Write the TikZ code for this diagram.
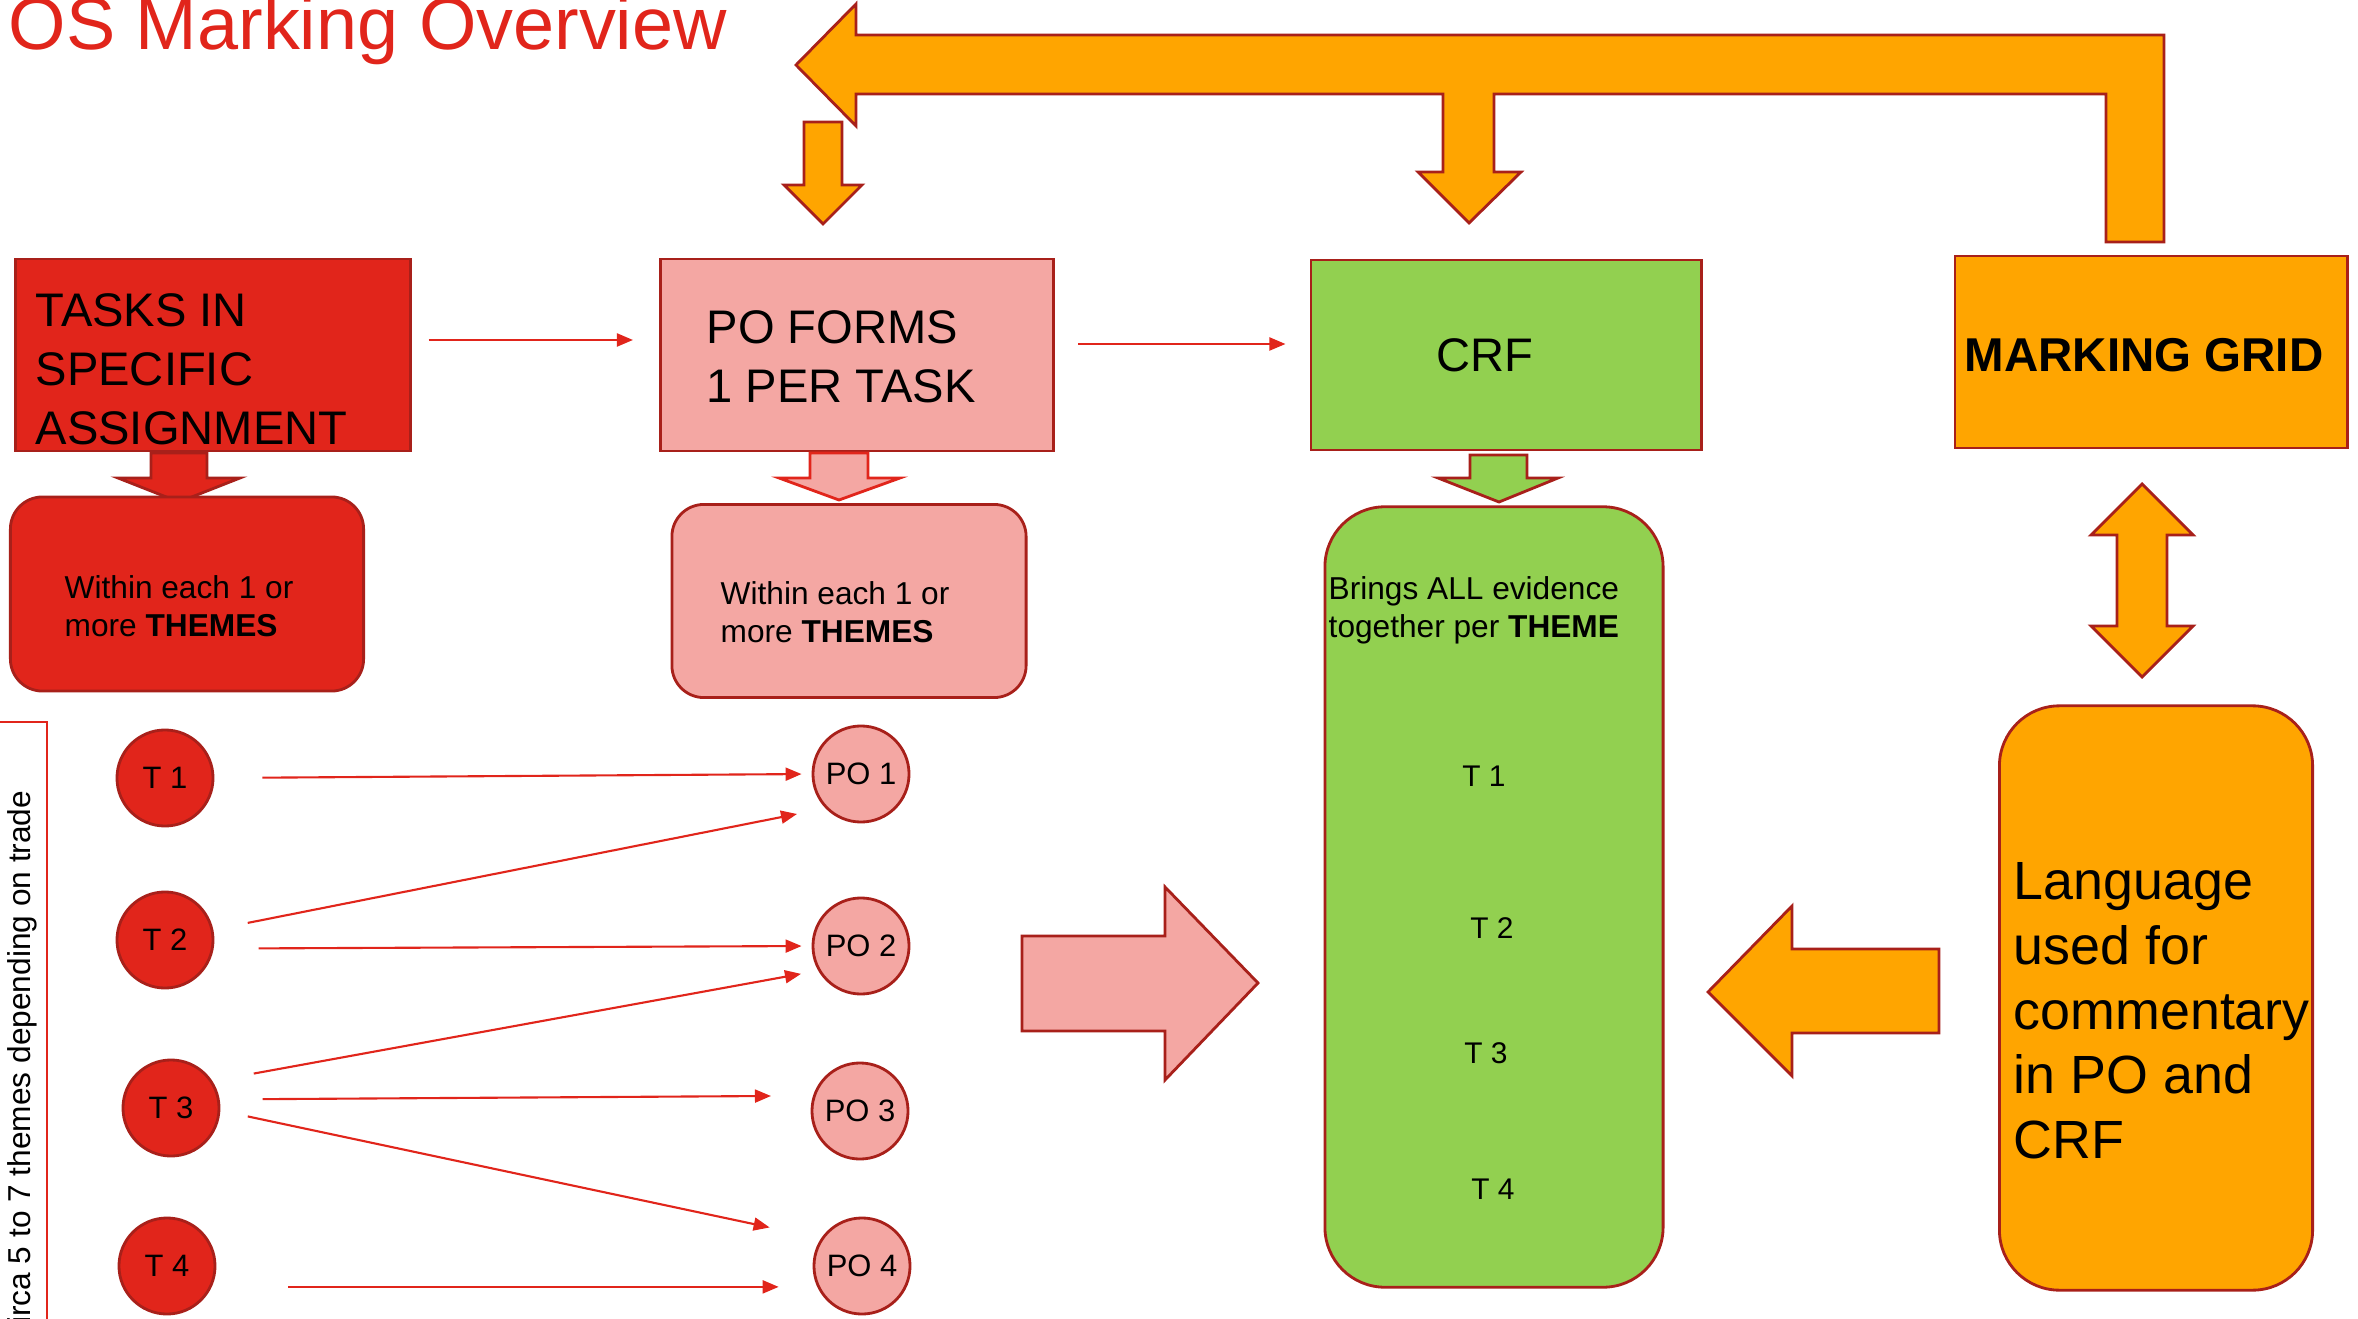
\documentclass[tikz,border=0pt]{standalone}
\usepackage{fontspec}
\setmainfont{Liberation Sans}
\usetikzlibrary{arrows.meta}

\definecolor{osred}{HTML}{E1251B}
\definecolor{ospink}{HTML}{F4A7A3}
\definecolor{osgreen}{HTML}{92D050}
\definecolor{osorange}{HTML}{FFA500}
\definecolor{osline}{HTML}{A8201A}

\tikzset{
    box/.style={draw=osline, line width=0.8pt, inner sep=0pt},
    boxtext/.style={inner sep=0pt, anchor=north west, align=left},
    bigtext/.style={font=\fontsize{13.4}{16.8}\selectfont},
    smalltext/.style={font=\fontsize{9}{10.8}\selectfont},
    theme/.style={circle, draw=osline, line width=0.8pt, fill=osred,
        minimum size=9.6mm, inner sep=0pt, font=\fontsize{8.8}{10}\selectfont},
    pocirc/.style={theme, fill=ospink},
    link/.style={draw=osred, line width=0.6pt, -{Triangle[length=1.6mm,width=1.3mm]}},
    block/.style={draw=osline, line width=0.8pt, line join=miter},
}

\begin{document}
\begin{tikzpicture}[x=0.01cm, y=-0.01cm]
\useasboundingbox (0,0) rectangle (2358,1319);
\clip (0,0) rectangle (2358,1319);

% title
\node[anchor=base west, inner sep=0pt, text=osred, font=\fontsize{21}{25}\selectfont] (title) at (8,50) {OS Marking Overview};

% feedback arrow across the top
\draw[block, fill=osorange] (796,65) -- (856,4) -- (856,35) -- (2164,35) -- (2164,242) -- (2106,242)
    -- (2106,94) -- (1494,94) -- (1494,172) -- (1521,172) -- (1469,223) -- (1418,172) -- (1443,172)
    -- (1443,94) -- (856,94) -- (856,126) -- cycle;
\draw[block, fill=osorange] (804,122) -- (842,122) -- (842,185) -- (862,185) -- (823,224)
    -- (784,185) -- (804,185) -- cycle;

% top row
\node[box, fill=osred, minimum width=3.94cm, minimum height=1.92cm] (tasks) at (213,355) {};
\node[boxtext, bigtext] (taskstext) at (35,293) {TASKS IN\\SPECIFIC\\ASSIGNMENT};

\node[box, fill=ospink, minimum width=3.93cm, minimum height=1.92cm] (poforms) at (857,355) {};
\node[boxtext, bigtext] (poformstext) at (706,310) {PO FORMS\\1 PER TASK};

\node[box, fill=osgreen, minimum width=3.90cm, minimum height=1.90cm] (crf) at (1506,355) {};
\node[bigtext, inner sep=0pt, anchor=base] (crftext) at (1485,372) {CRF};

\node[box, fill=osorange, minimum width=3.92cm, minimum height=1.92cm] (grid) at (2151,352) {};
\node[inner sep=0pt, anchor=base, font=\fontsize{13.5}{16}\selectfont\bfseries] (gridtext) at (2144,372) {MARKING GRID};

\draw[link, shorten <=1.7mm, shorten >=2.6mm] ([yshift=1.5mm]tasks.east) -- ([yshift=1.5mm]poforms.west);
\draw[link, shorten <=2.3mm, shorten >=2.4mm] ([yshift=1.1mm]poforms.east) -- ([yshift=1.1mm]crf.west);

% down arrows
\draw[block, fill=osred] (151,453) -- (207,453) -- (207,478) -- (240,478) -- (179,502) -- (118,478) -- (151,478) -- cycle;
\draw[block, draw=osred, fill=ospink] (810,453) -- (868,453) -- (868,478) -- (900,478) -- (839,500) -- (779,478) -- (810,478) -- cycle;
\draw[block, fill=osgreen] (1470,455) -- (1527,455) -- (1527,478) -- (1558,478) -- (1499,502) -- (1438,478) -- (1470,478) -- cycle;
\draw[block, fill=osorange] (2142,484) -- (2193,535) -- (2167,535) -- (2167,626) -- (2193,626) -- (2142,677)
    -- (2091,626) -- (2117,626) -- (2117,535) -- (2091,535) -- cycle;

% second row
\node[box, fill=osred, rounded corners=3.2mm, minimum width=3.53cm, minimum height=1.94cm] (taskthemes) at (187,594) {};
\node[boxtext, smalltext] (taskthemestext) at (64,575) {Within each 1 or\\more \textbf{THEMES}};

\node[box, fill=ospink, rounded corners=3.2mm, minimum width=3.54cm, minimum height=1.93cm] (pothemes) at (849,601) {};
\node[boxtext, smalltext] (pothemestext) at (720,581) {Within each 1 or\\more \textbf{THEMES}};

\node[box, fill=osgreen, rounded corners=6mm, minimum width=3.38cm, minimum height=7.80cm] (evidence) at (1494,897) {};
\node[boxtext, smalltext] (evidencetext) at (1328,576) {Brings ALL evidence\\together per \textbf{THEME}};
\foreach \i/\x/\y in {1/1484/786, 2/1492/938, 3/1486/1063, 4/1493/1199}
    \node[inner sep=0pt, anchor=base, font=\fontsize{8.5}{10}\selectfont] (g\i) at (\x,\y) {T \i};

\node[box, fill=osorange, rounded corners=6mm, minimum width=3.13cm, minimum height=5.84cm] (language) at (2156,998) {};
\node[boxtext, font=\fontsize{15.3}{18.4}\selectfont] (languagetext) at (2013,862) {Language\\used for\\commentary\\in PO and\\CRF};

% big arrows into the CRF column
\draw[block, fill=ospink] (1022,936) -- (1165,936) -- (1165,887) -- (1258,983) -- (1165,1080) -- (1165,1031) -- (1022,1031) -- cycle;
\draw[block, fill=osorange] (1939,949) -- (1792,949) -- (1792,906) -- (1708,992) -- (1792,1076) -- (1792,1033) -- (1939,1033) -- cycle;

% themes and PO forms
\draw[osred, line width=0.8pt] (-10,722) -- (47,722) -- (47,1340);
\node[rotate=90, anchor=base east, inner sep=0pt, smalltext] (circa) at (31,790) {circa 5 to 7 themes depending on trade};

\foreach \i/\x/\y in {1/165/778, 2/165/940, 3/171/1108, 4/167/1266}
    \node[theme] (t\i) at (\x,\y) {T \i\hspace{1.2mm}};
\foreach \i/\x/\y in {1/861/774, 2/861/946, 3/860/1111, 4/862/1266}
    \node[pocirc] (po\i) at (\x,\y) {PO \i};

\draw[link, shorten <=4.8mm, shorten >=1mm] (t1.east) -- (po1.west);
\draw[link, shorten <=3.5mm, shorten >=2.9mm] (t2.12) -- (po1.224);
\draw[link, shorten <=4.5mm, shorten >=1mm] (t2.-10) -- (po2.west);
\draw[link, shorten <=4.2mm, shorten >=1.75mm] (t3.33) -- (po2.210);
\draw[link, shorten <=4.3mm, shorten >=4.2mm] (t3.10) -- (po3.162);
\draw[link, shorten <=2.8mm, shorten >=5.25mm] (t3.-3) -- (po4.146);
\draw[link, shorten <=7.65mm, shorten >=3.85mm] (t4.-25) -- (po4.205);
\end{tikzpicture}
\end{document}
